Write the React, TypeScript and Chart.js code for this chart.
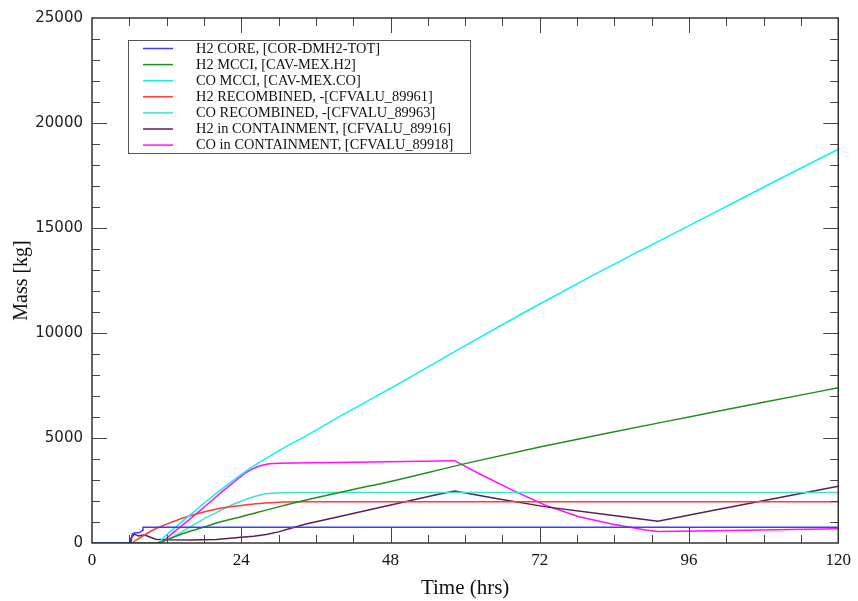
import React, { useEffect, useRef } from 'react';
import { Chart, registerables } from 'chart.js';

Chart.register(...registerables);

// ---------- data ----------
const seriesLabels = [
  'H2 CORE, [COR-DMH2-TOT]',
  'H2 MCCI, [CAV-MEX.H2]',
  'CO MCCI, [CAV-MEX.CO]',
  'H2 RECOMBINED, -[CFVALU_89961]',
  'CO RECOMBINED, -[CFVALU_89963]',
  'H2 in CONTAINMENT, [CFVALU_89916]',
  'CO in CONTAINMENT, [CFVALU_89918]',
];
const seriesColors = ['#3c3cff', '#1f8f1f', '#10f0f0', '#ff3a3a', '#40e0d0', '#5e1f4f', '#ff10ff'];
const seriesSmooth = [false, true, true, true, true, false, false];

const xTickLabels = [0, 24, 48, 72, 96, 120];
const yTickLabels = [0, 5000, 10000, 15000, 20000, 25000];

const h2CoreT = [0, 6.3, 6.45, 6.8, 7.7, 7.9, 8.1, 8.2, 120];
const h2CoreV = [0, 0, 430, 480, 500, 560, 600, 750, 745];

const h2MccT = [0, 10.5, 12, 14, 16, 18, 20, 24, 30, 36, 42, 48, 60, 72, 84, 96, 108, 120];
const h2MccV = [0, 0, 150, 380, 580, 760, 950, 1250, 1720, 2150, 2550, 2930, 3780, 4570, 5300, 6000, 6700, 7390];

const coMccT = [0, 10.3, 12, 15, 20, 25, 30, 35, 40, 50, 60, 70, 80, 90, 100, 110, 120];
const coMccV = [0, 0, 400, 1150, 2370, 3470, 4380, 5200, 6050, 7700, 9400, 11060, 12660, 14200, 15720, 17250, 18750];

const h2RecT = [0, 6.4, 7, 8, 9.8, 12, 15, 18, 21, 24, 27, 30, 34, 120];
const h2RecV = [0, 0, 120, 300, 620, 900, 1230, 1480, 1680, 1790, 1880, 1940, 1960, 1960];

const coRecT = [0, 10.5, 12, 14, 16, 18, 20, 22, 24, 26, 28, 30, 33, 120];
const coRecV = [0, 0, 150, 450, 800, 1150, 1450, 1750, 1990, 2200, 2340, 2395, 2405, 2405];

const h2ConT = [0, 6.1, 6.3, 6.8, 7.5, 8.4, 9.2, 10.2, 12, 16, 20, 24, 26, 28, 30, 32, 34.4, 40, 45, 50, 55, 58.3, 65, 73, 82, 91, 100, 110, 120];
const h2ConV = [0, 0, 250, 420, 330, 390, 300, 180, 150, 140, 170, 270, 320, 400, 530, 700, 900, 1272, 1605, 1937, 2270, 2480, 2120, 1720, 1380, 1040, 1560, 2130, 2705];

const coConT = [0, 11, 12, 13, 14, 15, 17, 19, 21, 23, 24.5, 25.5, 26.5, 27.5, 28.5, 30, 35, 45, 58.3, 62.2, 67.6, 72.9, 78.3, 83.6, 89, 91, 100, 110, 120];
const coConV = [0, 0, 220, 480, 720, 960, 1450, 1950, 2470, 2950, 3300, 3480, 3620, 3710, 3770, 3800, 3820, 3860, 3920, 3310, 2515, 1800, 1250, 900, 620, 545, 585, 630, 680];

const seriesT = [h2CoreT, h2MccT, coMccT, h2RecT, coRecT, h2ConT, coConT];
const seriesV = [h2CoreV, h2MccV, coMccV, h2RecV, coRecV, h2ConV, coConV];

const SERIF = '"Liberation Serif", "Times New Roman", serif';
const SANS = '"DejaVu Sans", sans-serif';

const decorPlugin = {
  id: 'decor',
  afterDraw(chart: any) {
    const { ctx, chartArea } = chart;
    const { left, right, top, bottom } = chartArea;
    const xs = chart.scales.x;
    const ys = chart.scales.y;
    ctx.save();
    // ticks
    ctx.strokeStyle = '#444';
    ctx.lineWidth = 1;
    ctx.beginPath();
    for (let t = 6; t < 120; t += 6) {
      const px = Math.round(xs.getPixelForValue(t)) + 0.5;
      const len = t % 24 === 0 ? 15 : 8;
      ctx.moveTo(px, bottom);
      ctx.lineTo(px, bottom - len);
      ctx.moveTo(px, top);
      ctx.lineTo(px, top + len);
    }
    for (let v = 1000; v < 25000; v += 1000) {
      const py = Math.round(ys.getPixelForValue(v)) + 0.5;
      const len = v % 5000 === 0 ? 15 : 8;
      ctx.moveTo(left, py);
      ctx.lineTo(left + len, py);
      ctx.moveTo(right, py);
      ctx.lineTo(right - len, py);
    }
    ctx.stroke();
    // frame
    ctx.strokeStyle = '#333';
    ctx.lineWidth = 1.5;
    ctx.strokeRect(left, top, right - left, bottom - top);

    // legend
    const bx = 128.5, by = 40.5, bw = 342, bh = 113;
    ctx.fillStyle = '#fff';
    ctx.fillRect(bx, by, bw, bh);
    ctx.strokeStyle = '#555';
    ctx.lineWidth = 1;
    ctx.strokeRect(bx, by, bw, bh);
    ctx.font = '14.4px ' + SERIF;
    ctx.textBaseline = 'middle';
    ctx.textAlign = 'left';
    seriesLabels.forEach((lab, i) => {
      const y = 48.5 + i * 16.1;
      ctx.strokeStyle = seriesColors[i];
      ctx.lineWidth = 1.5;
      ctx.beginPath();
      ctx.moveTo(143, y);
      ctx.lineTo(173, y);
      ctx.stroke();
      ctx.fillStyle = '#111';
      ctx.fillText(lab, 196, y + 0.5);
    });
    ctx.restore();
  },
};

export default function App() {
  const ref = useRef<HTMLCanvasElement | null>(null);
  useEffect(() => {
    if (!ref.current) return;
    const datasets = seriesLabels.map((label, i) => ({
      label,
      data: seriesT[i].map((t, j) => ({ x: t, y: seriesV[i][j] })),
      borderColor: seriesColors[i],
      backgroundColor: seriesColors[i],
      borderWidth: 1.5,
      pointRadius: 0,
      tension: 0,
      cubicInterpolationMode: seriesSmooth[i] ? 'monotone' : 'default',
      fill: false,
    }));
    const chart = new Chart(ref.current, {
      type: 'line',
      data: { datasets },
      options: {
        animation: false,
        responsive: false,
        events: [],
        layout: { padding: { top: 16, right: 18, left: 0, bottom: 0 } },
        plugins: { legend: { display: false }, tooltip: { enabled: false } },
        scales: {
          x: {
            type: 'linear',
            min: 0,
            max: 120,
            afterBuildTicks: (s: any) => {
              s.ticks = xTickLabels.map((v) => ({ value: v }));
            },
            ticks: {
              font: { family: SERIF, size: 17 },
              color: '#111',
              padding: 7,
              maxRotation: 0,
              autoSkip: false,
              callback: (v: any) => String(v),
            },
            grid: { display: false, drawTicks: false },
            border: { display: false },
            title: {
              display: true,
              text: 'Time (hrs)',
              font: { family: SERIF, size: 21 },
              color: '#111',
              padding: { top: 0, bottom: 0 },
            },
            afterFit: (s: any) => {
              s.height = 58;
            },
          },
          y: {
            type: 'linear',
            min: 0,
            max: 25000,
            afterBuildTicks: (s: any) => {
              s.ticks = yTickLabels.map((v) => ({ value: v }));
            },
            ticks: {
              font: { family: SANS, size: 15 },
              color: '#222',
              padding: 9,
              autoSkip: false,
              callback: (v: any) => String(v),
            },
            grid: { display: false, drawTicks: false },
            border: { display: false },
            title: {
              display: true,
              text: 'Mass [kg]',
              font: { family: SERIF, size: 20 },
              color: '#111',
              padding: { top: 10, bottom: 0 },
            },
            afterFit: (s: any) => {
              s.width = 92;
            },
          },
        },
      },
      plugins: [decorPlugin],
    } as any);
    return () => chart.destroy();
  }, []);
  return (
    <div style={{ position: 'absolute', left: 0, top: 0, width: 858, height: 601, background: '#fff' }}>
      <canvas ref={ref} width={858} height={601} style={{ display: 'block', width: 858, height: 601 }} />
    </div>
  );
}
